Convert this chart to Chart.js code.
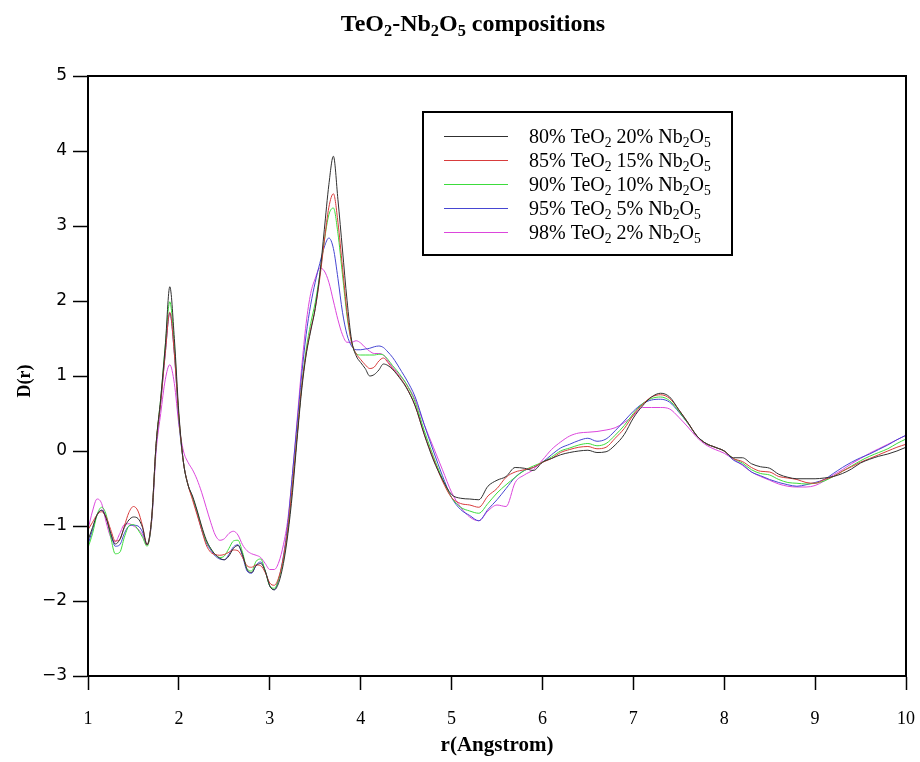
<!DOCTYPE html>
<html>
<head>
<meta charset="utf-8">
<script src="https://cdn.jsdelivr.net/npm/chart.js@4.4.1/dist/chart.umd.min.js"></script>
<style>
  body { margin: 0; background: #fff; }
  #wrap { width: 920px; height: 762px; position: relative; }
</style>
</head>
<body>
<div id="wrap"><canvas id="rdf-chart"></canvas></div>
<script>
// r grid (Angstrom): 0.05 steps up to 4.5, then 0.1 steps
const r = [
  1.00,1.05,1.10,1.15,1.20,1.25,1.30,1.35,1.40,1.45,
  1.50,1.55,1.60,1.65,1.70,1.75,1.80,1.85,1.90,1.95,
  2.00,2.05,2.10,2.15,2.20,2.25,2.30,2.35,2.40,2.45,
  2.50,2.55,2.60,2.65,2.70,2.75,2.80,2.85,2.90,2.95,
  3.00,3.05,3.10,3.15,3.20,3.25,3.30,3.35,3.40,3.45,
  3.50,3.55,3.60,3.65,3.70,3.75,3.80,3.85,3.90,3.95,
  4.00,4.05,4.10,4.15,4.20,4.25,4.30,4.35,4.40,4.45,
  4.50,
  4.6,4.7,4.8,4.9,5.0,5.1,5.2,5.3,5.4,5.5,
  5.6,5.7,5.8,5.9,6.0,6.1,6.2,6.3,6.4,6.5,
  6.6,6.7,6.8,6.9,7.0,7.1,7.2,7.3,7.4,7.5,
  7.6,7.7,7.8,7.9,8.0,8.1,8.2,8.3,8.4,8.5,
  8.6,8.7,8.8,8.9,9.0,9.1,9.2,9.3,9.4,9.5,
  9.6,9.7,9.8,9.9,10.0
];

const d80 = [
  -1.19,-1.02,-0.85,-0.79,-0.90,-1.10,-1.24,-1.18,-1.02,-0.92,
  -0.88,-0.90,-1.02,-1.25,-0.90,0.10,0.70,1.40,2.19,1.50,
  0.50,-0.15,-0.45,-0.60,-0.79,-1.00,-1.18,-1.30,-1.38,-1.43,
  -1.45,-1.40,-1.30,-1.26,-1.38,-1.58,-1.62,-1.53,-1.50,-1.60,
  -1.80,-1.85,-1.75,-1.50,-1.10,-0.55,0.15,0.80,1.28,1.60,
  1.90,2.35,2.95,3.55,3.93,3.35,2.68,2.01,1.48,1.27,
  1.18,1.10,1.00,1.02,1.08,1.16,1.14,1.09,1.02,0.94,
  0.85,
  0.60,0.22,-0.12,-0.38,-0.58,-0.63,-0.64,-0.65,-0.47,-0.39,
  -0.34,-0.22,-0.23,-0.26,-0.15,-0.10,-0.05,-0.02,0.00,0.01,
  -0.02,-0.01,0.08,0.22,0.44,0.60,0.72,0.77,0.72,0.55,
  0.38,0.20,0.10,0.05,0.00,-0.09,-0.09,-0.17,-0.21,-0.23,
  -0.31,-0.35,-0.37,-0.37,-0.37,-0.36,-0.34,-0.30,-0.24,-0.16,
  -0.11,-0.07,-0.04,0.00,0.05
];

const d85 = [
  -1.05,-0.95,-0.85,-0.81,-0.88,-1.05,-1.20,-1.18,-1.00,-0.82,
  -0.74,-0.80,-1.00,-1.25,-0.90,0.10,0.65,1.30,1.85,1.30,
  0.45,-0.15,-0.45,-0.65,-0.85,-1.05,-1.25,-1.35,-1.38,-1.39,
  -1.38,-1.35,-1.32,-1.33,-1.42,-1.53,-1.55,-1.52,-1.53,-1.62,
  -1.76,-1.79,-1.68,-1.42,-1.02,-0.45,0.20,0.85,1.30,1.62,
  1.90,2.30,2.80,3.25,3.43,3.05,2.45,1.85,1.45,1.30,
  1.22,1.15,1.10,1.12,1.20,1.24,1.18,1.10,1.03,0.95,
  0.86,
  0.60,0.22,-0.10,-0.40,-0.62,-0.70,-0.72,-0.75,-0.60,-0.50,
  -0.35,-0.28,-0.25,-0.22,-0.15,-0.10,-0.02,0.02,0.05,0.06,
  0.03,0.05,0.17,0.30,0.48,0.62,0.72,0.75,0.70,0.55,
  0.38,0.20,0.10,0.05,0.00,-0.10,-0.14,-0.22,-0.27,-0.28,
  -0.34,-0.36,-0.38,-0.42,-0.43,-0.38,-0.34,-0.27,-0.21,-0.15,
  -0.10,-0.05,0.00,0.05,0.09
];

const d90 = [
  -1.29,-1.10,-0.85,-0.75,-0.85,-1.15,-1.37,-1.35,-1.15,-1.00,
  -0.98,-1.05,-1.15,-1.27,-0.92,0.10,0.70,1.40,1.99,1.40,
  0.45,-0.15,-0.45,-0.62,-0.80,-1.02,-1.20,-1.30,-1.38,-1.42,
  -1.40,-1.30,-1.20,-1.19,-1.35,-1.57,-1.60,-1.47,-1.44,-1.60,
  -1.80,-1.83,-1.70,-1.45,-1.05,-0.45,0.20,0.85,1.35,1.70,
  1.98,2.35,2.80,3.15,3.24,2.90,2.35,1.80,1.45,1.30,
  1.28,1.28,1.28,1.28,1.29,1.28,1.22,1.14,1.07,0.99,
  0.90,
  0.65,0.27,-0.07,-0.37,-0.62,-0.75,-0.80,-0.83,-0.70,-0.56,
  -0.45,-0.35,-0.26,-0.20,-0.15,-0.08,0.00,0.04,0.08,0.10,
  0.07,0.10,0.21,0.34,0.50,0.63,0.70,0.72,0.67,0.53,
  0.37,0.20,0.10,0.05,0.00,-0.10,-0.16,-0.25,-0.30,-0.32,
  -0.38,-0.42,-0.43,-0.44,-0.43,-0.40,-0.34,-0.27,-0.20,-0.13,
  -0.07,-0.02,0.03,0.10,0.16
];

const d95 = [
  -1.25,-1.05,-0.85,-0.79,-0.88,-1.10,-1.27,-1.25,-1.10,-1.00,
  -0.99,-1.00,-1.08,-1.25,-0.92,0.08,0.65,1.30,1.84,1.30,
  0.40,-0.15,-0.45,-0.62,-0.82,-1.05,-1.22,-1.32,-1.40,-1.44,
  -1.45,-1.38,-1.28,-1.25,-1.40,-1.60,-1.63,-1.52,-1.48,-1.60,
  -1.80,-1.85,-1.70,-1.40,-0.95,-0.30,0.35,1.00,1.55,1.95,
  2.25,2.50,2.72,2.84,2.70,2.30,1.85,1.55,1.40,1.35,
  1.35,1.36,1.37,1.39,1.40,1.38,1.32,1.25,1.16,1.06,
  0.96,
  0.72,0.35,0.00,-0.33,-0.62,-0.78,-0.86,-0.93,-0.78,-0.65,
  -0.50,-0.35,-0.26,-0.22,-0.15,-0.05,0.04,0.09,0.14,0.17,
  0.13,0.16,0.27,0.40,0.53,0.63,0.68,0.69,0.65,0.52,
  0.37,0.20,0.10,0.05,0.00,-0.12,-0.18,-0.28,-0.33,-0.38,
  -0.42,-0.45,-0.47,-0.45,-0.42,-0.38,-0.30,-0.22,-0.15,-0.09,
  -0.04,0.02,0.08,0.15,0.21
];

const d98 = [
  -1.05,-0.80,-0.64,-0.70,-0.95,-1.15,-1.21,-1.10,-0.98,-0.97,
  -1.00,-1.04,-1.12,-1.25,-0.95,0.00,0.50,0.95,1.15,0.90,
  0.35,0.00,-0.15,-0.25,-0.38,-0.55,-0.75,-0.95,-1.12,-1.19,
  -1.17,-1.10,-1.07,-1.12,-1.25,-1.33,-1.37,-1.39,-1.42,-1.50,
  -1.58,-1.58,-1.48,-1.25,-0.90,-0.30,0.40,1.10,1.70,2.10,
  2.30,2.44,2.40,2.25,2.00,1.75,1.55,1.45,1.45,1.47,
  1.44,1.38,1.33,1.30,1.30,1.28,1.20,1.12,1.05,0.98,
  0.90,
  0.68,0.35,0.05,-0.25,-0.55,-0.75,-0.88,-0.93,-0.80,-0.72,
  -0.74,-0.42,-0.32,-0.25,-0.12,0.02,0.12,0.20,0.24,0.25,
  0.26,0.28,0.31,0.38,0.47,0.58,0.58,0.58,0.56,0.45,
  0.32,0.18,0.08,0.02,-0.03,-0.11,-0.19,-0.28,-0.34,-0.39,
  -0.44,-0.47,-0.48,-0.48,-0.46,-0.40,-0.32,-0.25,-0.17,-0.10,
  -0.03,0.03,0.09,0.15,0.21
];

// "_2" means subscript 2
const seriesLabels = [
  "80% TeO_2 20% Nb_2O_5",
  "85% TeO_2 15% Nb_2O_5",
  "90% TeO_2 10% Nb_2O_5",
  "95% TeO_2 5% Nb_2O_5",
  "98% TeO_2 2% Nb_2O_5"
];
const seriesColors = ["#303030", "#d83c3c", "#3cdc3c", "#4646d2", "#dc46dc"];
const allSeries = [d80, d85, d90, d95, d98];

const titleText = "TeO_2-Nb_2O_5 compositions";
const xTitle = "r(Angstrom)";
const yTitle = "D(r)";

const SERIF = "'Liberation Serif', 'Times New Roman', serif";

// draw text where "_d" is a subscript digit
function drawRich(ctx, str, x, y, size, weight, align) {
  const parts = str.split(/(_\d)/).filter(p => p.length);
  const segs = parts.map(p => p[0] === "_"
    ? { t: p.slice(1), size: size * 0.68, dy: size * 0.2 }
    : { t: p, size: size, dy: 0 });
  let total = 0;
  segs.forEach(s => {
    ctx.font = weight + " " + s.size + "px " + SERIF;
    s.w = ctx.measureText(s.t).width;
    total += s.w;
  });
  let cx = align === "center" ? x - total / 2 : x;
  ctx.textAlign = "left";
  ctx.textBaseline = "alphabetic";
  segs.forEach(s => {
    ctx.font = weight + " " + s.size + "px " + SERIF;
    ctx.fillText(s.t, cx, y + s.dy);
    cx += s.w;
  });
}

const decoPlugin = {
  id: "deco",
  afterDraw(chart) {
    const { ctx, chartArea: a } = chart;
    ctx.save();
    ctx.fillStyle = "#000";
    ctx.strokeStyle = "#000";
    ctx.lineWidth = 2;
    ctx.strokeRect(a.left, a.top, a.right - a.left, a.bottom - a.top);

    drawRich(ctx, titleText, 473, 31, 24, "bold", "center");

    ctx.font = "bold 21px " + SERIF;
    ctx.textAlign = "center";
    ctx.textBaseline = "middle";
    ctx.fillText(xTitle, 497, 746);

    ctx.save();
    ctx.translate(25, 381);
    ctx.rotate(-Math.PI / 2);
    ctx.font = "bold 18px " + SERIF;
    ctx.fillText(yTitle, 0, 0);
    ctx.restore();

    // legend box
    ctx.lineWidth = 2;
    ctx.strokeRect(423, 112, 309, 143);
    seriesLabels.forEach((lab, i) => {
      const cy = 136 + i * 24;
      ctx.strokeStyle = seriesColors[i];
      ctx.lineWidth = 1;
      ctx.beginPath();
      ctx.moveTo(444, cy + 0.5);
      ctx.lineTo(508, cy + 0.5);
      ctx.stroke();
      ctx.fillStyle = "#000";
      drawRich(ctx, lab, 529, cy + 7, 20, "normal", "left");
    });
    ctx.restore();
  }
};

const ctx = document.getElementById("rdf-chart").getContext("2d");
new Chart(ctx, {
  type: "line",
  data: {
    datasets: allSeries.map((vals, i) => ({
      label: seriesLabels[i],
      data: r.map((x, j) => ({ x: x, y: vals[j] })),
      borderColor: seriesColors[i],
      borderWidth: 1,
      pointRadius: 0,
      fill: false,
      cubicInterpolationMode: "monotone"
    }))
  },
  options: {
    responsive: true,
    maintainAspectRatio: false,
    animation: false,
    layout: { padding: { top: 76, right: 14, bottom: 0, left: 0 } },
    plugins: { legend: { display: false }, tooltip: { enabled: false }, title: { display: false } },
    scales: {
      x: {
        type: "linear",
        min: 1,
        max: 10,
        ticks: {
          stepSize: 1,
          color: "#000",
          padding: 18,
          font: { family: SERIF, size: 18 }
        },
        grid: { drawOnChartArea: false, drawTicks: true, tickLength: 14, tickColor: "#000", tickWidth: 1.5 },
        border: { color: "#000", width: 2 },
        afterFit(scale) {
          scale.height = 86;
          scale.paddingLeft = 0;
          scale.paddingRight = 0;
        }
      },
      y: {
        min: -3,
        max: 5,
        ticks: {
          stepSize: 1,
          color: "#000",
          padding: 6,
          font: { family: "'DejaVu Sans', sans-serif", size: 17 },
          callback: v => (v < 0 ? "\u2212" + (-v) : String(v))
        },
        grid: { drawOnChartArea: false, drawTicks: true, tickLength: 15, tickColor: "#000", tickWidth: 1.5 },
        border: { color: "#000", width: 2 },
        afterFit(scale) {
          scale.width = 88;
          scale.paddingTop = 0;
          scale.paddingBottom = 0;
        }
      }
    }
  },
  plugins: [decoPlugin]
});
</script>
</body>
</html>
